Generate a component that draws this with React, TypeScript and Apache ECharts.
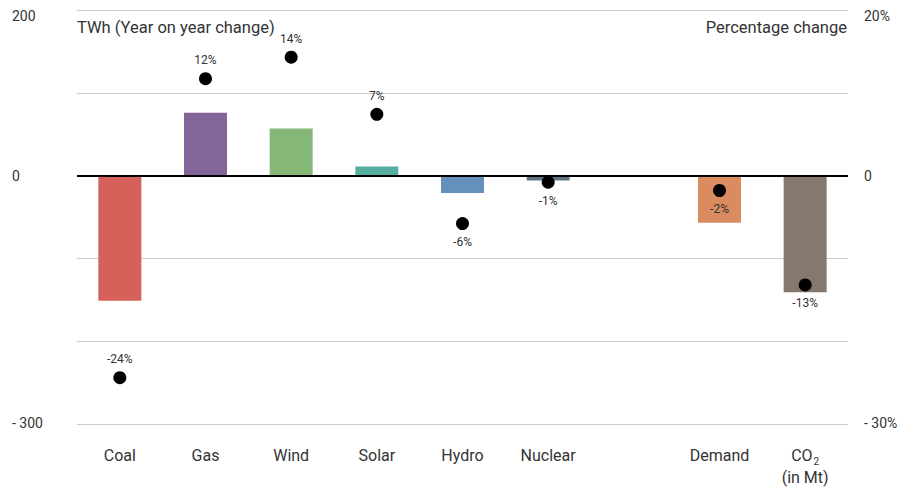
import React, { useEffect, useRef } from "react";
import * as echarts from "echarts";

const categories = ["Coal", "Gas", "Wind", "Solar", "Hydro", "Nuclear", "", "Demand", "CO2"];
const twhChange: (number | null)[] = [-151, 76, 57, 11, -21, -6, null, -57, -141];
const pctChange: (number | null)[] = [-24.4, 11.7, 14.3, 7.4, -5.8, -0.8, null, -1.8, -13.2];
const barColors = ["#d6605a", "#836699", "#85b876", "#55ae9f", "#6590bb", "#5f7584", "#ffffff", "#da8b5f", "#85786e"];
const pctLabelSide = ["top", "top", "top", "top", "bottom", "bottom", "", "bottom", "bottom"];
const leftTicks: Record<string, string> = { "200": "200", "0": "0", "-300": "- 300" };
const rightTicks: Record<string, string> = { "20": "20%", "0": "0", "-30": "- 30%" };

const FONT = "Roboto, 'Liberation Sans', sans-serif";

export default function App() {
  const ref = useRef<HTMLDivElement>(null);
  useEffect(() => {
    if (!ref.current) return;
    const chart = echarts.init(ref.current, undefined, { renderer: "svg" });
    const option: any = {
      animation: false,
      textStyle: { fontFamily: FONT },
      title: [
        {
          text: "TWh (Year on year change)",
          left: 77,
          top: 19,
          padding: 0,
          textStyle: { fontSize: 16.5, fontWeight: "normal", color: "#333", fontFamily: FONT },
        },
        {
          text: "Percentage change",
          right: 69,
          top: 19,
          padding: 0,
          textStyle: { fontSize: 16.5, fontWeight: "normal", color: "#333", fontFamily: FONT },
        },
      ],
      grid: { left: 77, right: 68, top: 10, bottom: 67, containLabel: false },
      xAxis: {
        type: "category",
        data: categories,
        axisLine: { show: false },
        axisTick: { show: false },
        axisLabel: {
          interval: 0,
          margin: 20,
          fontSize: 16,
          color: "#333",
          fontFamily: FONT,
          lineHeight: 22,
          formatter: (v: string) => (v === "CO2" ? "{a|CO}{sub|2}\n{a|(in Mt)}" : v),
          rich: {
            a: { fontSize: 16, color: "#333", lineHeight: 22, fontFamily: FONT },
            sub: { fontSize: 10, color: "#333", lineHeight: 22, padding: [12, 0, 0, 1], fontFamily: FONT },
          },
        },
      },
      yAxis: [
        {
          type: "value",
          min: -300,
          max: 200,
          interval: 100,
          axisLine: { show: false },
          axisTick: { show: false },
          splitLine: { lineStyle: { color: "#cccccc", width: 1 } },
          axisLabel: {
            align: "left",
            margin: 65,
            fontSize: 14,
            color: "#333",
            fontFamily: FONT,
            formatter: (v: number) => {
              const t = leftTicks[String(v)];
              if (t === undefined) return "";
              if (v === 200) return "{top|" + t + "}";
              if (v === -300) return "{bot|" + t + "}";
              return t;
            },
            rich: {
              top: { fontSize: 14, color: "#333", padding: [12, 0, 0, 0], fontFamily: FONT },
              bot: { fontSize: 14, color: "#333", padding: [0, 0, 3, 0], fontFamily: FONT },
            },
          },
        },
        {
          type: "value",
          min: -30,
          max: 20,
          interval: 10,
          position: "right",
          axisLine: { show: false },
          axisTick: { show: false },
          splitLine: { show: false },
          axisLabel: {
            align: "left",
            margin: 16,
            fontSize: 14,
            color: "#333",
            fontFamily: FONT,
            formatter: (v: number) => {
              const t = rightTicks[String(v)];
              if (t === undefined) return "";
              if (v === 20) return "{top|" + t + "}";
              if (v === -30) return "{bot|" + t + "}";
              return t;
            },
            rich: {
              top: { fontSize: 14, color: "#333", padding: [12, 0, 0, 0], fontFamily: FONT },
              bot: { fontSize: 14, color: "#333", padding: [0, 0, 3, 0], fontFamily: FONT },
            },
          },
        },
      ],
      series: [
        {
          type: "bar",
          yAxisIndex: 0,
          barWidth: 43,
          data: twhChange.map((v, i) => (v === null ? "-" : { value: v, itemStyle: { color: barColors[i] } })),
          markLine: {
            silent: true,
            symbol: "none",
            label: { show: false },
            lineStyle: { color: "#000", width: 2, type: "solid" },
            data: [{ yAxis: 0 }],
          },
        },
        {
          type: "scatter",
          yAxisIndex: 1,
          symbolSize: 13,
          itemStyle: { color: "#000", opacity: 1 },
          data: pctChange.map((v, i) =>
            v === null
              ? "-"
              : {
                  value: v,
                  label: { position: pctLabelSide[i] },
                }
          ),
          label: {
            show: true,
            fontSize: 12,
            color: "#333",
            distance: 6,
            fontFamily: FONT,
            formatter: (p: any) => Math.round(p.value) + "%",
          },
        },
      ],
    };
    chart.setOption(option);
    return () => chart.dispose();
  }, []);
  return <div ref={ref} style={{ position: "fixed", left: 0, top: 0, width: 916, height: 491, background: "#fff" }} />;
}
